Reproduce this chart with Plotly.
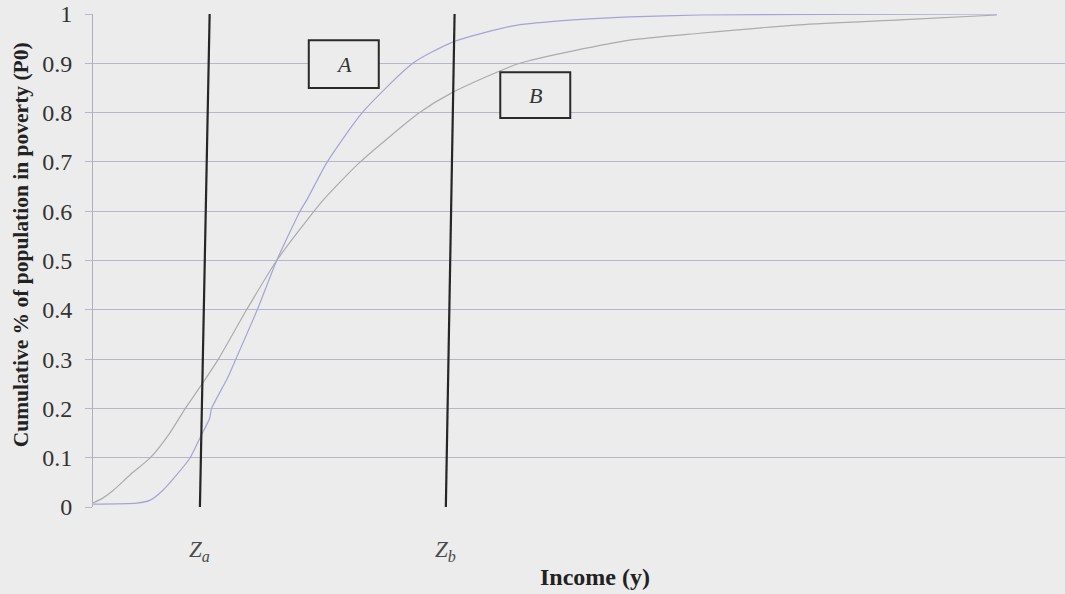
import plotly.graph_objects as go

# Cumulative distribution of income for two populations (P0 poverty headcount)
income_a = [0, 4.5, 5.9, 7.2, 8.6, 10.0, 11.0, 12.0, 12.2, 13.8, 14.7, 16.9, 18.9, 21.3, 22.0,
            24.1, 27.7, 32.9, 37.0, 43.2, 48.0, 55.2, 62.4, 75.0, 93.0]
p0_a = [0.006, 0.008, 0.014, 0.034, 0.065, 0.10, 0.14, 0.18, 0.20, 0.26, 0.30, 0.40, 0.50, 0.60, 0.623,
        0.70, 0.80, 0.90, 0.943, 0.976, 0.986, 0.994, 0.998, 0.999, 1.0]

income_b = [0, 1.0, 2.1, 3.8, 5.9, 7.9, 9.5, 11.0, 12.9, 15.8, 18.9, 23.7, 27.5, 33.6, 36.9,
            43.9, 55.2, 62.4, 72.7, 83.0, 93.0]
p0_b = [0.008, 0.018, 0.034, 0.065, 0.10, 0.15, 0.20, 0.243, 0.30, 0.40, 0.50, 0.623, 0.70, 0.80, 0.84,
        0.90, 0.947, 0.961, 0.978, 0.988, 0.998]

# Poverty lines (bottom and top x of each drawn line)
poverty_lines = ["Z<sub>a</sub>", "Z<sub>b</sub>"]
line_x_bottom = [11.0, 36.3]
line_x_top = [12.0, 37.2]

# Curve label boxes: x0, x1, y0, y1
box_labels = ["A", "B"]
box_x0 = [22.2, 41.9]
box_x1 = [29.4, 49.1]
box_y0 = [0.850, 0.789]
box_y1 = [0.947, 0.882]

y_ticks = [0, 0.1, 0.2, 0.3, 0.4, 0.5, 0.6, 0.7, 0.8, 0.9, 1]
y_tick_text = ["0", "0.1", "0.2", "0.3", "0.4", "0.5", "0.6", "0.7", "0.8", "0.9", "1"]

SERIF = "Liberation Serif, Times New Roman, serif"
GRID = "#b6b6cc"

fig = go.Figure()
fig.add_trace(go.Scatter(x=income_b, y=p0_b, mode="lines",
                         line=dict(color="#ababb0", width=1.2, shape="spline", smoothing=0.6),
                         showlegend=False, hoverinfo="skip"))
fig.add_trace(go.Scatter(x=income_a, y=p0_a, mode="lines",
                         line=dict(color="#a4a4d8", width=1.2, shape="spline", smoothing=0.6),
                         showlegend=False, hoverinfo="skip"))

for name, xb, xt in zip(poverty_lines, line_x_bottom, line_x_top):
    fig.add_shape(type="line", x0=xb, x1=xt, y0=0, y1=1, xref="x", yref="y",
                  line=dict(color="#262626", width=2.2))
    fig.add_annotation(x=xb, y=-0.089, xref="x", yref="paper", text="<i>" + name + "</i>",
                       xanchor="center", yanchor="middle",
                       showarrow=False, font=dict(family=SERIF, size=23, color="#4a4a4a"))

for lab, x0, x1, y0, y1 in zip(box_labels, box_x0, box_x1, box_y0, box_y1):
    fig.add_shape(type="rect", x0=x0, x1=x1, y0=y0, y1=y1, xref="x", yref="y",
                  line=dict(color="#2a2a2a", width=2), fillcolor="#ececec")
    fig.add_annotation(x=(x0 + x1) / 2, y=(y0 + y1) / 2, xref="x", yref="y", text="<i>" + lab + "</i>",
                       showarrow=False, font=dict(family=SERIF, size=22, color="#333333"))

fig.add_annotation(x=0.516, y=-0.142, xref="paper", yref="paper", text="<b>Income (y)</b>",
                   xanchor="center", yanchor="middle",
                   showarrow=False, font=dict(family=SERIF, size=24, color="#222222"))

# Vertical axis title
fig.add_annotation(x=-0.074, y=0.531, xref="paper", yref="paper",
                   text="<b>Cumulative % of population in poverty (P0)</b>", textangle=-90,
                   xanchor="center", yanchor="middle",
                   showarrow=False, font=dict(family=SERIF, size=21.5, color="#222222"))

fig.update_layout(
    width=1065, height=594,
    margin=dict(l=93, r=0, t=14, b=87),
    paper_bgcolor="#ececec", plot_bgcolor="#ececec",
    xaxis=dict(range=[0, 100], showgrid=False, showticklabels=False, zeroline=False,
               showline=False, ticks=""),
    yaxis=dict(range=[0, 1], tickvals=y_ticks, ticktext=y_tick_text, showgrid=True,
               gridcolor=GRID, gridwidth=1, zeroline=False, showline=True, linecolor="#b0b0b8",
               linewidth=1, ticks="outside", ticklen=7, tickcolor=GRID, ticklabelstandoff=8,
               tickfont=dict(family=SERIF, size=24, color="#333333")),
)

fig.write_html("out.html")
